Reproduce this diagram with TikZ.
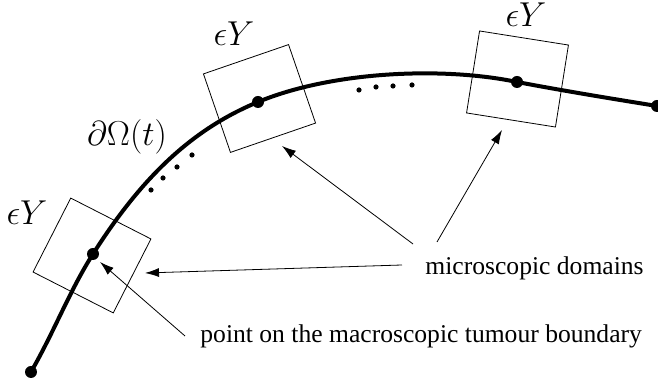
\documentclass[tikz,border=0pt]{standalone}
\usepackage{fontspec}
\setmainfont{Liberation Serif}
\usetikzlibrary{arrows.meta}
\tikzset{
  cell/.style={draw, thin, minimum width=45pt, minimum height=41.5pt, inner sep=0pt},
  lab/.style={font=\fontsize{16}{18}\selectfont, inner sep=0pt},
  txt/.style={font=\fontsize{12.8}{15}\selectfont, inner sep=0pt, anchor=base west},
  pt/.style={fill, circle, inner sep=0pt, minimum size=6pt},
  sdot/.style={fill, circle, inner sep=0pt, minimum size=2.6pt},
}
\begin{document}
\begin{tikzpicture}[x=0.5pt, y=-0.5pt, >={Latex[length=7pt,width=4.5pt]}]
  \useasboundingbox (0,0) rectangle (658,383);
  % the boundary
  \draw[line width=2pt] (31,372) .. controls (55,330) and (70,290) .. (93,254)
    .. controls (140,180) and (190,130) .. (258,102)
    .. controls (330,72) and (440,66) .. (517,82)
    .. controls (570,92) and (620,100) .. (657,106);
  \node[pt] (p0) at (31,372) {};
  \node[pt] (p1) at (93,254) {};
  \node[pt] (p2) at (258,102) {};
  \node[pt] (p3) at (517,82) {};
  \node[pt] (p4) at (657,106) {};

  \foreach \x/\y in {151/190, 163/178, 177/167, 192/155, 359/90, 376/87, 393/86, 412/85}
    { \node[sdot] at (\x,\y) {}; }

  % cells
  \node[cell, rotate=-27] (b1) at (92,255.5) {};
  \node[cell, rotate=19] (b2) at (259.5,98.5) {};
  \node[cell, rotate=-9] (b3) at (517.5,79) {};

  \node[lab] (l1) at (27,213) {$\epsilon Y$};
  \node[lab] (l2) at (234,34) {$\epsilon Y$};
  \node[lab] (l3) at (526,15) {$\epsilon Y$};
  \node[lab] (bd) at (127,137) {$\partial\Omega(t)$};

  \node[txt] (micro) at (425,275) {microscopic domains};
  \node[txt] (point) at (200,343) {point on the macroscopic tumour boundary};

  \coordinate (m1) at (402,265);
  \coordinate (m2) at (413,244);
  \coordinate (m3) at (437,242);
  \coordinate (q) at (185,336);
  \coordinate (t1) at (145,273);
  \coordinate (t2) at (282,146);
  \coordinate (t3) at (502,130);
  \coordinate (tp) at (100,262);

  \draw[->] (m1) -- (t1);
  \draw[->] (m2) -- (t2);
  \draw[->] (m3) -- (t3);
  \draw[->] (q) -- (tp);
\end{tikzpicture}
\end{document}
